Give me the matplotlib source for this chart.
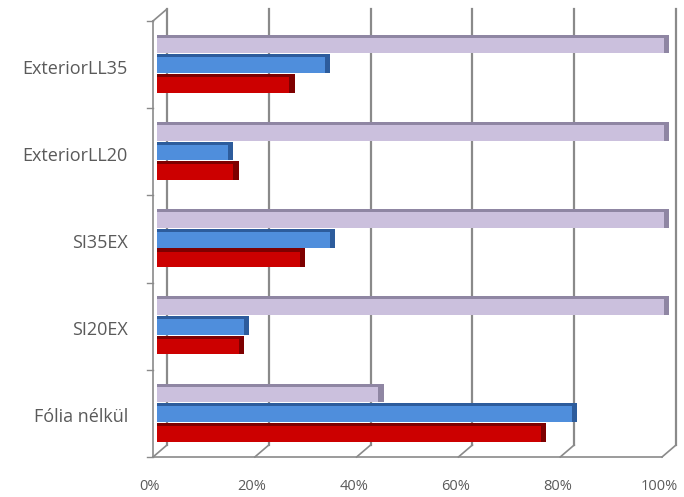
import matplotlib.pyplot as plt
import matplotlib.transforms as mtransforms
import numpy as np

categories = ['ExteriorLL35', 'ExteriorLL20', 'SI35EX', 'SI20EX', 'Fólia nélkül']
purple_vals = [100, 100, 100, 100, 44]
blue_vals = [33.5, 14.5, 34.5, 17.5, 82]
red_vals = [26.5, 15.5, 28.5, 16.5, 76]
x_ticks = [0, 20, 40, 60, 80, 100]
x_labels = ['0%', '20%', '40%', '60%', '80%', '100%']

W, H = 684, 497
fig = plt.figure(figsize=(W / 100, H / 100), dpi=100)
# front plane of the pseudo 3D box, in pixels
left, right, bottom, top = 153, 662, 457, 21
ax = fig.add_axes([left / W, (H - bottom) / H, (right - left) / W, (bottom - top) / H])
ax.set_xlim(0, 100)
ax.set_ylim(len(categories) - 0.5, -0.5)
ax.axis('off')

grid_col = '#8a8a8a'
text_col = '#5a5a5a'
dx, dy = 14, 12
back = mtransforms.offset_copy(ax.transData, fig=fig, x=dx, y=dy, units='dots')
yb = len(categories) - 0.5

# back wall gridlines
for t in x_ticks:
    ax.plot([t, t], [-0.5, yb], color=grid_col, lw=1.6,
            transform=back, clip_on=False, zorder=1)

# floor slants from front to back
for t in x_ticks:
    x0, y0 = ax.transData.transform((t, yb))
    fig.add_artist(plt.Line2D([x0, x0 + dx], [y0, y0 + dy], color=grid_col, lw=1.2,
                              transform=None))
# left wall: front edge and top slant
x0, y0 = ax.transData.transform((0, -0.5))
x1, y1 = ax.transData.transform((0, yb))
fig.add_artist(plt.Line2D([x0, x1], [y0, y1], color=grid_col, lw=1.2, transform=None))
fig.add_artist(plt.Line2D([x0, x0 + dx], [y0, y0 + dy], color=grid_col, lw=1.2, transform=None))
# floor front edge
x2, y2 = ax.transData.transform((100, yb))
fig.add_artist(plt.Line2D([x1, x2], [y1, y2], color=grid_col, lw=1.2, transform=None))
# category separator ticks
for k in range(len(categories) + 1):
    xa, ya = ax.transData.transform((0, k - 0.5))
    fig.add_artist(plt.Line2D([xa - 6, xa], [ya, ya], color=grid_col, lw=1.0, transform=None))

y = np.arange(len(categories))
h = 0.215
series = [
    (purple_vals, -0.235, '#cbc0dd', '#8f86a3'),
    (blue_vals, -0.01, '#4f8edc', '#2d5c9c'),
    (red_vals, 0.215, '#cc0000', '#7e0000'),
]
for vals, off, col, dark in series:
    vals = np.array(vals)
    ax.barh(y + off, vals, height=h, left=0.8, color=col, zorder=3, clip_on=False)
    # darker top face strip
    ax.barh(y + off - h / 2 + 0.018, vals, height=0.036, left=0.8, color=dark, zorder=4,
            clip_on=False)
    # end cap
    ax.barh(y + off, 1.0, height=h, left=vals + 0.3, color=dark, zorder=4, clip_on=False)

for k, name in enumerate(categories):
    xa, ya = ax.transData.transform((0, k))
    fig.text((xa - 25) / W, (ya - 4) / H, name, ha='right', va='center', fontsize=13,
             color=text_col, family='Open Sans')
for t, lab in zip(x_ticks, x_labels):
    xa, ya = ax.transData.transform((t, yb))
    fig.text((xa - 3) / W, (ya - 30) / H, lab, ha='center', va='center', fontsize=10.5,
             color=text_col, family='Open Sans')

fig.savefig('out.png', dpi=100)
